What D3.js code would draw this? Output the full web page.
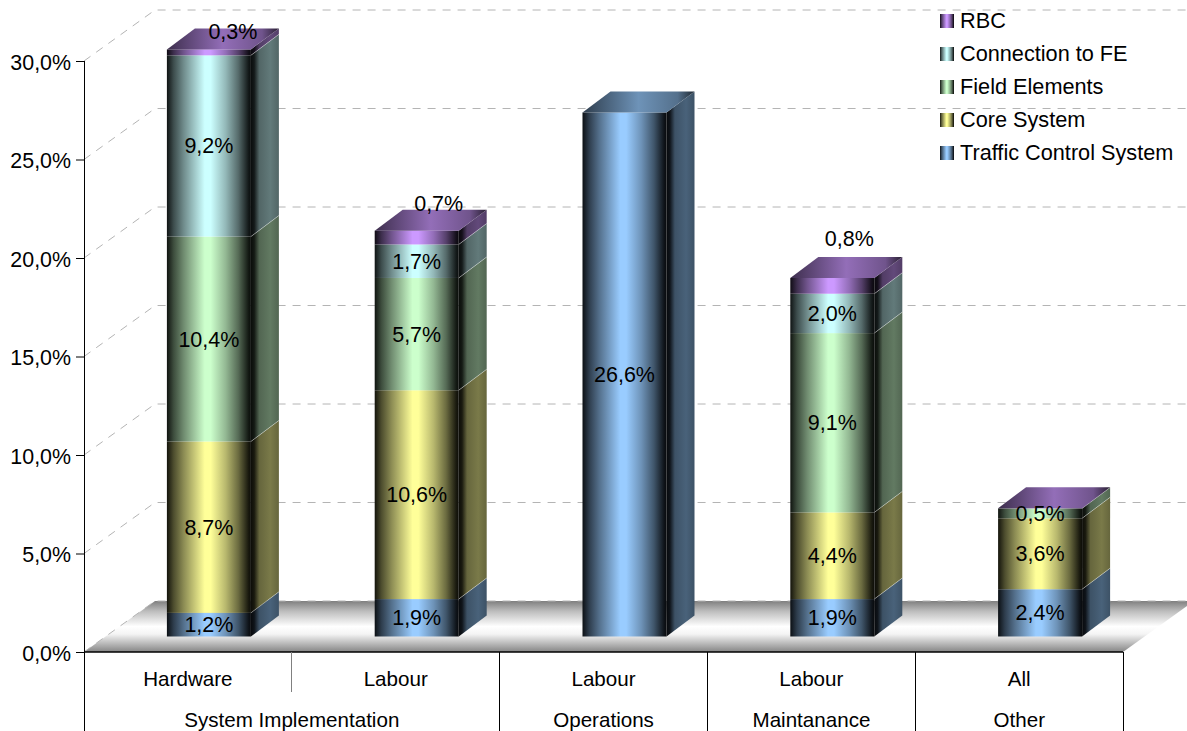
<!DOCTYPE html>
<html>
<head>
<meta charset="utf-8">
<script src="https://cdn.jsdelivr.net/npm/d3@7"></script>
<style>
  html, body { margin: 0; padding: 0; background: #fff; overflow: hidden; }
  text { font-family: "Liberation Sans", Arial, sans-serif; fill: #000; }
</style>
</head>
<body>
<div id="chart"></div>
<script>
const categories = ['Hardware', 'Labour', 'Labour', 'Labour', 'All']
const groupNames = ['System Implementation', 'Operations', 'Maintanance', 'Other']
const groupSpans = [2, 1, 1, 1]
const seriesNames = ['Traffic Control System', 'Core System', 'Field Elements', 'Connection to FE', 'RBC']
const traffic = [1.2, 1.9, 26.6, 1.9, 2.4]
const core = [8.7, 10.6, 0, 4.4, 3.6]
const field = [10.4, 5.7, 0, 9.1, 0.5]
const connection = [9.2, 1.7, 0, 2.0, 0]
const rbc = [0.3, 0.7, 0, 0.8, 0.01]
const seriesValues = [traffic, core, field, connection, rbc]
const seriesColors = ['#99ccff', '#ffff99', '#ccffcc', '#ccffff', '#cc99ff']

const width = 1187, height = 731
const plotLeft = 84, plotRight = 1123, plotBottom = 652, plotTop = 61
const wallX = 71, wallY = 51    // depth of the floor and walls
const barX = 21, barY = 15.5    // front of the bars sits this far into the floor
const depthX = 28, depthY = 21  // depth of a bar

const svg = d3.select('#chart').append('svg')
  .attr('width', width)
  .attr('height', height)
  .style('display', 'block')
const defs = svg.append('defs')

const xScale = d3.scaleBand().domain(d3.range(categories.length)).range([plotLeft, plotRight])
const yScale = d3.scaleLinear().domain([0, 30]).range([plotBottom, plotTop])
const barWidth = 84

const mix = (c, t) => d3.interpolateRgb(c, '#000')(t)

const gradient = (id, stops, vertical) => {
  const g = defs.append('linearGradient')
    .attr('id', id)
    .attr('x1', 0).attr('y1', 0)
    .attr('x2', vertical ? 0 : 1).attr('y2', vertical ? 1 : 0)
  stops.forEach(s => g.append('stop').attr('offset', s[0]).attr('stop-color', s[1]))
}

seriesColors.forEach((c, i) => {
  gradient('front' + i, [[0, mix(c, 0.92)], [0.08, mix(c, 0.7)], [0.2, mix(c, 0.45)], [0.35, mix(c, 0.18)], [0.45, c], [0.52, c], [0.7, mix(c, 0.28)], [0.85, mix(c, 0.58)], [0.97, mix(c, 0.9)], [1, mix(c, 0.95)]])
  gradient('side' + i, [[0, mix(c, 0.95)], [0.12, mix(c, 0.9)], [0.3, mix(c, 0.6)], [0.7, mix(c, 0.52)], [1, mix(c, 0.6)]])
  gradient('top' + i, [[0, mix(c, 0.7)], [0.5, mix(c, 0.28)], [0.85, mix(c, 0.45)], [1, mix(c, 0.8)]])
})
gradient('floor', [[0, '#7f7f7f'], [0.2, '#bdbdbd'], [0.5, '#ffffff'], [0.65, '#f4f4f4'], [1, '#858585']], true)

const poly = pts => pts.map(p => p.join(',')).join(' ')
const percent = d => d3.format('.1f')(d).replace('.', ',') + '%'

// floor
svg.append('polygon')
  .attr('points', poly([[plotLeft, plotBottom], [plotLeft + wallX, plotBottom - wallY], [plotRight + wallX, plotBottom - wallY], [plotRight, plotBottom]]))
  .attr('fill', 'url(#floor)')

// grid lines on the two walls
const gridTicks = yScale.ticks(6)
svg.append('g').selectAll('path')
  .data(gridTicks)
  .enter().append('path')
  .attr('d', d => {
    const y = yScale(d)
    return 'M' + plotLeft + ',' + y + 'L' + (plotLeft + wallX) + ',' + (y - wallY) + 'L' + (plotRight + wallX) + ',' + (y - wallY)
  })
  .attr('fill', 'none')
  .attr('stroke', '#b4b4b4')
  .attr('stroke-width', 1)
  .attr('stroke-dasharray', '8,7')

// bars, one category at a time so that the boxes overlap correctly
const barsY = d => yScale(d) - barY
const labels = []

// data labels of the thin top segments were moved by hand in the original
const labelShift = { '0-4': [24, -21], '1-4': [22, -34], '3-4': [17, -47] }

categories.forEach((cat, c) => {
  const x0 = xScale(c) + (xScale.bandwidth() - barWidth) / 2 + barX
  const x1 = x0 + barWidth
  const g = svg.append('g').attr('class', 'bar')
  let sum = 0
  let lastSeries = 0
  seriesValues.forEach((vals, s) => {
    const v = vals[c]
    if (!v) return
    const yb = barsY(sum)
    const yt = barsY(sum + v)
    g.append('polygon')
      .attr('points', poly([[x1, yb], [x1 + depthX, yb - depthY], [x1 + depthX, yt - depthY], [x1, yt]]))
      .attr('fill', 'url(#side' + s + ')')
    if (sum > 0) {
      g.append('line')
        .attr('x1', x1).attr('y1', yb)
        .attr('x2', x1 + depthX).attr('y2', yb - depthY)
        .attr('stroke', '#fff').attr('stroke-opacity', 0.45).attr('stroke-width', 0.8)
    }
    g.append('rect')
      .attr('x', x0).attr('y', yt)
      .attr('width', barWidth).attr('height', yb - yt)
      .attr('fill', 'url(#front' + s + ')')
    const shift = labelShift[c + '-' + s] || [0, 0]
    // a sliver like the RBC share under "All" has no label
    if (v >= 0.05) {
      labels.push({ x: (x0 + x1) / 2 + shift[0], y: (yb + yt) / 2 + shift[1], text: percent(v) })
    }
    sum += v
    lastSeries = s
  })
  const yt = barsY(sum)
  g.append('polygon')
    .attr('points', poly([[x0, yt], [x0 + depthX, yt - depthY], [x1 + depthX, yt - depthY], [x1, yt]]))
    .attr('fill', 'url(#top' + lastSeries + ')')
})

// value labels
svg.append('g').selectAll('text')
  .data(labels)
  .enter().append('text')
  .attr('x', d => d.x)
  .attr('y', d => d.y)
  .attr('dy', '.35em')
  .attr('text-anchor', 'middle')
  .attr('font-size', 21.5)
  .text(d => d.text)

// y axis
const yAxis = d3.axisLeft(yScale)
  .tickValues(gridTicks)
  .tickSize(8)
  .tickPadding(5)
  .tickFormat(percent)
const yG = svg.append('g')
  .attr('transform', 'translate(' + plotLeft + ',0)')
  .call(yAxis)
yG.selectAll('text').attr('font-size', 21.4).attr('dy', '.38em')
yG.attr('font-family', null)
yG.select('.domain').remove()
svg.append('line')
  .attr('x1', plotLeft + 0.5).attr('y1', plotTop)
  .attr('x2', plotLeft + 0.5).attr('y2', height)
  .attr('stroke', '#000')

// x axis with the two rows of category labels
svg.append('line')
  .attr('x1', plotLeft).attr('y1', plotBottom)
  .attr('x2', plotRight).attr('y2', plotBottom)
  .attr('stroke', '#000').attr('stroke-width', 1.5)

svg.append('g').selectAll('text')
  .data(categories)
  .enter().append('text')
  .attr('x', (d, i) => xScale(i) + xScale.bandwidth() / 2)
  .attr('y', 686)
  .attr('text-anchor', 'middle')
  .attr('font-size', 20.6)
  .text(d => d)

let start = 0
groupNames.forEach((name, i) => {
  const end = start + groupSpans[i]
  const xEnd = Math.floor(xScale(end - 1) + xScale.bandwidth()) + 0.5
  svg.append('text')
    .attr('x', (xScale(start) + xEnd) / 2)
    .attr('y', 727)
    .attr('text-anchor', 'middle')
    .attr('font-size', 20.6)
    .text(name)
  svg.append('line')
    .attr('x1', xEnd).attr('y1', plotBottom)
    .attr('x2', xEnd).attr('y2', height)
    .attr('stroke', '#000')
  for (let k = start + 1; k < end; k++) {
    const xk = Math.floor(xScale(k)) + 0.5
    svg.append('line')
      .attr('x1', xk).attr('y1', plotBottom)
      .attr('x2', xk).attr('y2', 692)
      .attr('stroke', '#808080')
  }
  start = end
})

// legend, top series first
const legend = svg.selectAll('.legend')
  .data(d3.range(seriesNames.length).reverse())
  .enter().append('g')
  .attr('class', 'legend')
  .attr('transform', (d, i) => 'translate(940,' + (21 + i * 33) + ')')

legend.append('rect')
  .attr('x', 0).attr('y', -7)
  .attr('width', 14).attr('height', 14)
  .attr('fill', d => 'url(#front' + d + ')')

legend.append('text')
  .attr('x', 20)
  .attr('dy', '.31em')
  .attr('font-size', 21.7)
  .text(d => seriesNames[d])
</script>
</body>
</html>
